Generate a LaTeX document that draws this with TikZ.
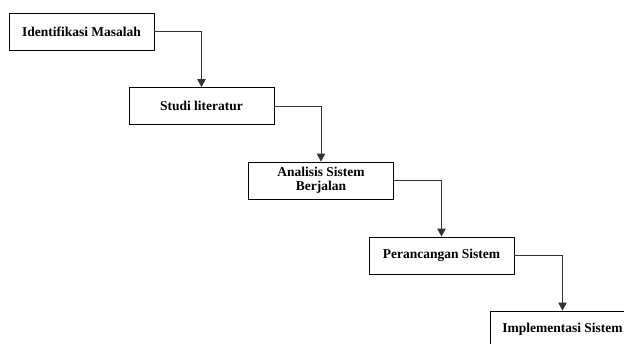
\documentclass[tikz,border=0pt]{standalone}
\usepackage{fontspec}
\setmainfont{Liberation Serif}
\usetikzlibrary{arrows.meta}
\begin{document}
\begin{tikzpicture}[x=1pt,y=-1pt,
  stepbox/.style={draw=black,line width=0.9pt,fill=white,minimum width=145pt,minimum height=37pt,
    inner sep=0pt,align=center,font=\fontsize{13.5}{14.5}\selectfont\bfseries},
  conn/.style={draw=black!80,line width=0.9pt,-{Triangle[width=8.5pt,length=8pt]}}]
\clip (0,0) rectangle (624,343);
\fill[white] (0,0) rectangle (624,343);
\node[stepbox] (a) at (81.5,31.5) {Identifikasi Masalah};
\node[stepbox] (b) at (201.5,106) {Studi literatur};
\node[stepbox] (c) at (321,180.5) {Analisis Sistem\\Berjalan};
\node[stepbox] (d) at (441.5,255.5) {Perancangan Sistem};
\node[stepbox] (e) at (562.5,329.5) {Implementasi Sistem};
\draw[conn] (a.east) -| (b.north);
\draw[conn] (b.east) -| (c.north);
\draw[conn] (c.east) -| (d.north);
\draw[conn] (d.east) -| (e.north);
\end{tikzpicture}
\end{document}
